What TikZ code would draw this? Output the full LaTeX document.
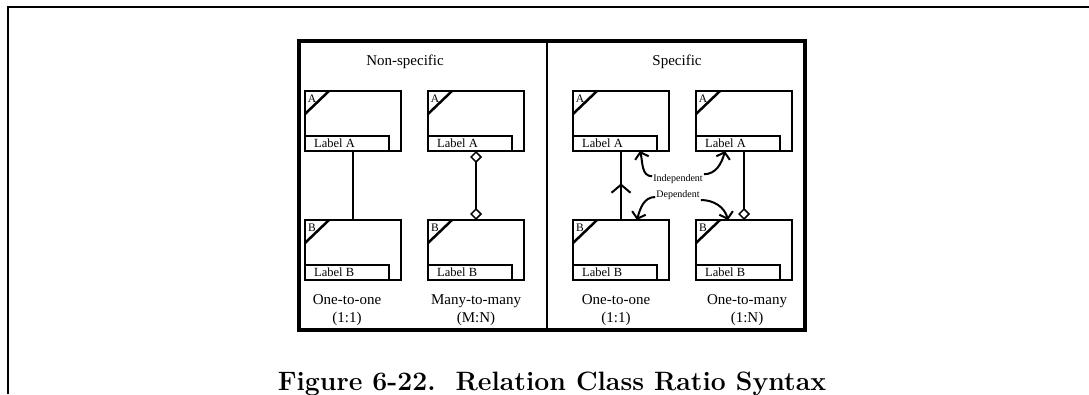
\documentclass[tikz,border=0pt]{standalone}
\usepackage{fontspec}
\newfontfamily\tnr{Liberation Serif}
\usetikzlibrary{arrows.meta, calc, decorations.markings}

\tikzset{
  entbox/.style={draw, line width=2.5pt, minimum width=96pt, minimum height=60pt, inner sep=0pt, outer sep=0pt, anchor=north west},
  lblbox/.style={draw, line width=2.5pt, minimum width=84pt, minimum height=15pt, inner sep=0pt, outer sep=0pt, anchor=south west},
  lbltext/.style={font=\tnr\fontsize{12.5}{14}\selectfont, inner sep=0pt, anchor=west},
  tag/.style={font=\tnr\fontsize{11.5}{12}\selectfont, inner sep=0pt},
  corner/.style={line width=2.5pt},
  conn/.style={line width=2pt},
  ratio/.style={font=\tnr\fontsize{15}{17.5}\selectfont, align=center},
  head/.style={font=\tnr\fontsize{15}{18}\selectfont},
  role/.style={font=\tnr\fontsize{10}{12}\selectfont, inner sep=1pt},
  curv/.style={line width=2pt, -{Straight Barb[length=6pt,width=14pt]}},
  dia/.tip={Diamond[open,length=12pt,width=12pt,line width=1.5pt]}
}

\begin{document}
\begin{tikzpicture}[x=1pt, y=-1pt]
\useasboundingbox (0,0) rectangle (1089,394);
% page frame and figure frame
\draw[line width=2pt] (8,394) -- (8,7) -- (1089,7);
\draw[line width=4pt] (299,41) rectangle (805,330);
\draw[line width=2pt] (547,41) -- (547,330);
\node[head] (nonspec) at (405,62) {Non-specific};
\node[head] (spec) at (677,62) {Specific};

% entity boxes
\foreach \n/\x/\y/\c in {a1/305/91/A, a2/428/91/A, a3/573/91/A, a4/696/91/A,
                         b1/305/220/B, b2/428/220/B, b3/573/220/B, b4/696/220/B} {
  \node[entbox] (\n) at (\x,\y) {};
  \node[lblbox] (l\n) at (\n.south west) {};
  \node[lbltext] at ([xshift=9pt]l\n.west) {Label \c};
  \draw[corner] ([yshift=-23pt]\n.north west) -- ([xshift=24pt]\n.north west);
  \node[tag] at ([xshift=7pt,yshift=-8pt]\n.north west) {\c};
}

% relations
\draw[conn] (a1) -- (b1);
\draw[conn, dia-dia] (a2) -- (b2);
\draw[conn, postaction={decorate}, decoration={markings,
  mark=at position 0.53 with {\arrow{Straight Barb[length=8pt,width=19pt]}}}] (b3) -- (a3);
\draw[conn, -dia] (a4) -- (b4);

\node[role] (ind) at (678,179) {Independent};
\node[role] (dep) at (678,195) {Dependent};
\draw[curv] ([yshift=-3pt]ind.north west) to[out=180, in=-75] ([xshift=67pt]a3.south west);
\draw[curv] ([yshift=-1pt]ind.north east) to[out=0, in=-105] ([xshift=29pt]a4.south west);
\draw[curv] ([yshift=-2pt]dep.west) to[out=180, in=75] ([xshift=64pt]b3.north west);
\draw[curv] ([yshift=-5pt]dep.east) to[out=0, in=105] ([xshift=32pt]b4.north west);

\node[ratio] (r1) at (347,310) {One-to-one\\(1:1)};
\node[ratio] (r2) at (476,310) {Many-to-many\\(M:N)};
\node[ratio] (r3) at (616,310) {One-to-one\\(1:1)};
\node[ratio] (r4) at (747,310) {One-to-many\\(1:N)};

\node[font=\bfseries\fontsize{26.6}{30}\selectfont, anchor=base] (cap) at (552,390)
  {Figure 6-22.\ \ Relation Class Ratio Syntax};
\end{tikzpicture}
\end{document}
